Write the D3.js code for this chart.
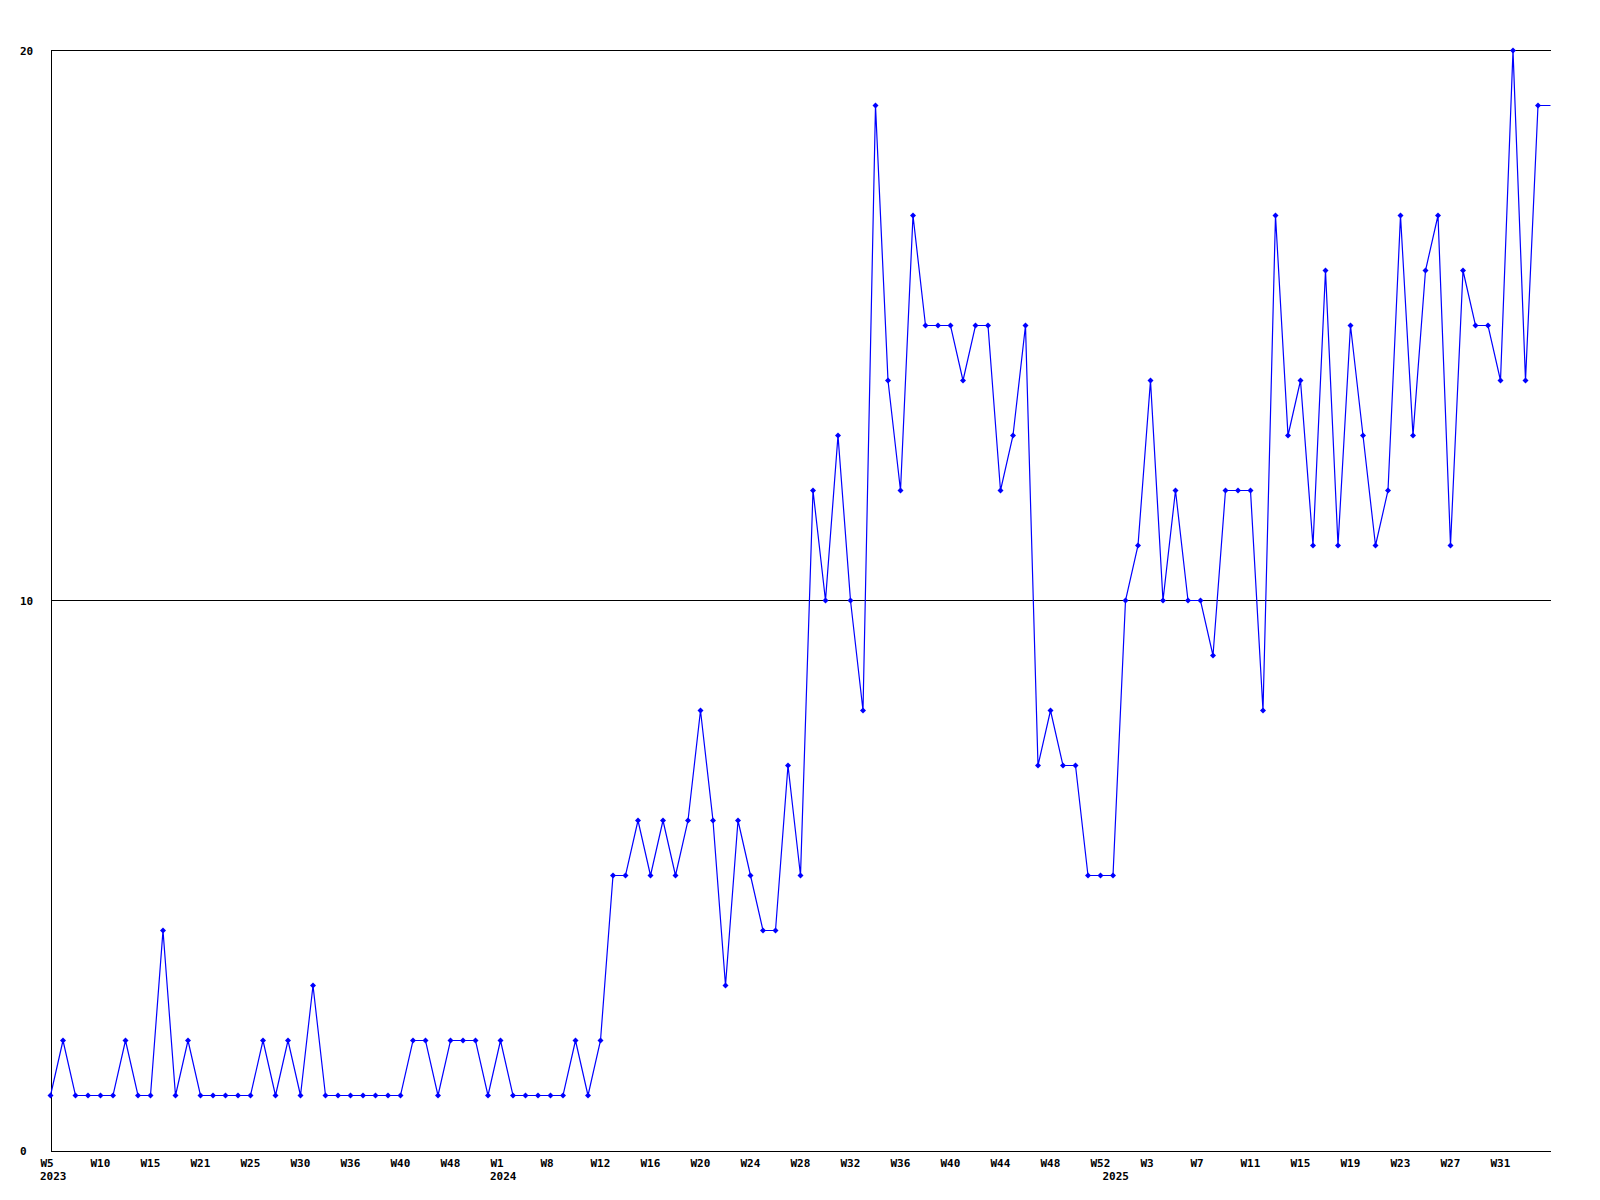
<!DOCTYPE html>
<html><head><meta charset="utf-8">
<script src="https://cdn.jsdelivr.net/npm/d3@7"></script>
<style>
body{margin:0;background:#fff}
svg{display:block}
text{font-family:"DejaVu Sans Mono","Liberation Mono",monospace;font-weight:bold;font-size:11px;fill:#000}
</style>
</head><body>
<svg id="c" width="1600" height="1200"></svg>
<script>
// ---- data ----
const years = ["2023", "2024", "2025"];
const weeks2023 = [5,6,7,8,10,11,12,13,15,16,17,19,21,22,23,24,25,26,27,28,30,31,32,34,36,37,38,39,40,42,44,46,48,49,50,51];
const weeks2024 = [1,3,5,6,8,9,10,11,12,13,14,15,16,17,18,19,20,21,22,23,24,25,26,27,28,29,30,31,32,33,34,35,36,37,38,39,40,41,42,43,44,45,46,47,48,49,50,51,52];
const weeks2025 = [0,1,2,3,4,5,6,7,8,9,10,11,12,13,14,15,16,17,18,19,20,21,22,23,24,25,26,27,28,29,30,31,32,33,34,35];
const values = [
  1,2,1,1,1,1,2,1,1,4,
  1,2,1,1,1,1,1,2,1,2,
  1,3,1,1,1,1,1,1,1,2,
  2,1,2,2,2,1,2,1,1,1,
  1,1,2,1,2,5,5,6,5,6,
  5,6,8,6,3,6,5,4,4,7,
  5,12,10,13,10,8,19,14,12,17,
  15,15,15,14,15,15,12,13,15,7,
  8,7,7,5,5,5,10,11,14,10,
  12,10,10,9,12,12,12,8,17,13,
  14,11,16,11,15,13,11,12,17,13,
  16,17,11,16,15,15,14,20,14,19,
  19
];
const yTicks = [0, 10, 20];
const labelEvery = 4;

// ---- build categories ----
const weekLists = [weeks2023, weeks2024, weeks2025];
const points = [];
weekLists.forEach((wl, yi) => wl.forEach((w, wi) => points.push({year: years[yi], week: w, first: wi === 0})));
points.forEach((p, i) => { p.i = i; p.v = values[i]; });
const lastIdx = points.length - 1;

// ---- layout ----
const mLeft = 50.5, mRight = 1550.5, mTop = 50.5, mBottom = 1150.5;
const x = d3.scaleLinear().domain([0, lastIdx]).range([mLeft, mRight]);
const y = d3.scaleLinear().domain([0, 20]).range([mBottom, mTop]);

const svg = d3.select("#c");

// gridlines
svg.append("g").selectAll("line").data(yTicks.filter(t => t > 0)).join("line")
  .attr("x1", mLeft).attr("x2", mRight)
  .attr("y1", d => y(d)).attr("y2", d => y(d))
  .attr("stroke", "#000").attr("stroke-width", 1).attr("shape-rendering", "crispEdges");

// y axis
const ya = svg.append("g").attr("transform", `translate(${mLeft},0)`)
  .call(d3.axisLeft(y).tickValues(yTicks).tickSize(0).tickSizeOuter(0).tickFormat(d3.format("d")));
ya.attr("font-family", null).attr("font-size", null);
ya.select(".domain").attr("stroke", "#000").attr("shape-rendering", "crispEdges");
ya.selectAll("text").attr("text-anchor", "start").attr("x", 20 - mLeft).attr("dy", "0.36em");

// x axis
const xa = svg.append("g").attr("transform", `translate(0,${mBottom})`)
  .call(d3.axisBottom(x)
    .tickValues(points.filter(p => p.i % labelEvery === 0 && p.i < lastIdx).map(p => p.i))
    .tickSize(0).tickSizeOuter(0)
    .tickFormat(i => "W" + points[i].week));
xa.attr("font-family", null).attr("font-size", null);
xa.select(".domain").attr("stroke", "#000").attr("shape-rendering", "crispEdges");
xa.selectAll("text").attr("text-anchor", "start").attr("x", -10.5).attr("y", 16.5).attr("dy", null);

// year labels
svg.append("g").selectAll("text").data(points.filter(p => p.first)).join("text")
  .attr("x", d => x(d.i) - 10.5).attr("y", mBottom + 29.5)
  .text(d => d.year);

// line
const line = d3.line().x(d => x(d.i)).y(d => y(d.v));
svg.append("path").datum(points)
  .attr("d", line).attr("fill", "none").attr("stroke", "#0000ff").attr("stroke-width", 1.2);

// markers
svg.append("g").selectAll("path").data(points.filter(p => p.i < lastIdx)).join("path")
  .attr("transform", d => `translate(${x(d.i)},${y(d.v)})`)
  .attr("d", "M0,-3L3,0L0,3L-3,0Z")
  .attr("fill", "#0000ff");
</script>
</body></html>
